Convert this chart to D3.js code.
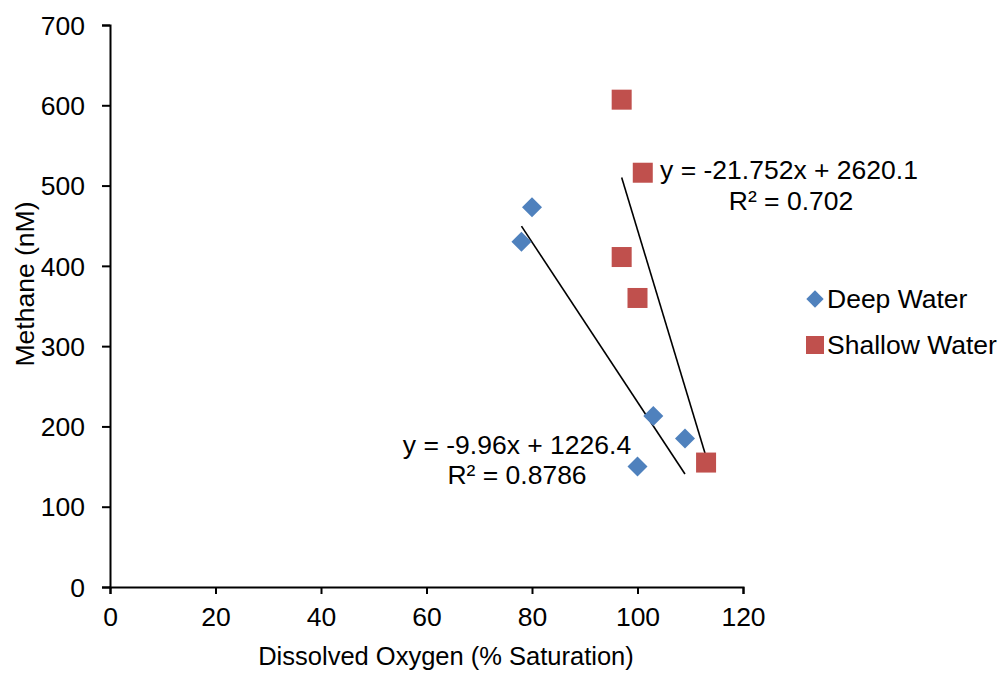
<!DOCTYPE html>
<html><head><meta charset="utf-8">
<script src="https://cdn.jsdelivr.net/npm/d3@7"></script>
<style>body{margin:0;background:#fff}svg{display:block}text{font-family:"Liberation Sans",Arial,sans-serif;fill:#000}</style>
</head><body>
<svg id="c" width="1001" height="673"></svg>
<script>
const deepX = [78, 80, 103, 109, 100];
const deepY = [430, 473, 213, 185, 150];
const shallowX = [97, 101, 97, 100, 113];
const shallowY = [607, 516, 411, 360, 155];
const xTicks = [0, 20, 40, 60, 80, 100, 120];
const yTicks = [0, 100, 200, 300, 400, 500, 600, 700];
const seriesNames = ["Deep Water", "Shallow Water"];
const deepFit = {slope: -9.96, intercept: 1226.4, r2: "0.8786", label: "y = -9.96x + 1226.4"};
const shallowFit = {slope: -21.752, intercept: 2620.1, r2: "0.702", label: "y = -21.752x + 2620.1"};

const svg = d3.select("#c");
const x = d3.scaleLinear().domain([0, 120]).range([110, 743]);
const y = d3.scaleLinear().domain([0, 700]).range([587, 25]);
const FS = 26.5;

// axes
const xa = svg.append("g").attr("transform", "translate(0,587)")
  .call(d3.axisBottom(x).tickValues(xTicks).tickSize(7).tickPadding(13).tickFormat(d3.format("d")));
const ya = svg.append("g").attr("transform", "translate(110,0)")
  .call(d3.axisLeft(y).tickValues(yTicks).tickSize(8).tickPadding(17).tickFormat(d3.format("d")));
[xa, ya].forEach(a => {
  a.select(".domain").attr("stroke", "#000").attr("stroke-width", 2);
  a.selectAll(".tick line").attr("stroke", "#000").attr("stroke-width", 2);
  a.selectAll(".tick text").attr("font-size", FS).attr("font-family", "Liberation Sans, Arial, sans-serif").attr("fill", "#000");
});
ya.selectAll(".tick text").attr("dy", "0.35em");

// axis titles
svg.append("text").attr("x", 446).attr("y", 665).attr("text-anchor", "middle").attr("font-size", 25.5)
  .text("Dissolved Oxygen (% Saturation)");
svg.append("text").attr("transform", "translate(34,284) rotate(-90)").attr("text-anchor", "middle").attr("font-size", FS)
  .text("Methane (nM)");

// trendlines
function trend(xs, fit) {
  const x0 = d3.min(xs), x1 = d3.max(xs);
  svg.append("line")
    .attr("x1", x(x0)).attr("y1", y(fit.slope * x0 + fit.intercept))
    .attr("x2", x(x1)).attr("y2", y(fit.slope * x1 + fit.intercept))
    .attr("stroke", "#000").attr("stroke-width", 1.6);
}
trend(deepX, deepFit);
trend(shallowX, shallowFit);

const blue = "#4F81BD", red = "#C0504D";
const diamond = d3.symbol().type(d3.symbolSquare).size(200);
// deep water diamonds
svg.append("g").selectAll("path").data(deepX.map((d, i) => [d, deepY[i]])).join("path")
  .attr("d", diamond)
  .attr("transform", d => `translate(${x(d[0])},${y(d[1])}) rotate(45)`)
  .attr("fill", blue);
// shallow squares
svg.append("g").selectAll("rect").data(shallowX.map((d, i) => [d, shallowY[i]])).join("rect")
  .attr("x", d => x(d[0]) - 10).attr("y", d => y(d[1]) - 10)
  .attr("width", 20).attr("height", 20).attr("fill", red);

// equation labels
function eq(fit, cx1, by1, cx2, by2) {
  svg.append("text").attr("x", cx1).attr("y", by1).attr("text-anchor", "middle").attr("font-size", FS).text(fit.label);
  svg.append("text").attr("x", cx2).attr("y", by2).attr("text-anchor", "middle").attr("font-size", FS).text("R² = " + fit.r2);
}
eq(shallowFit, 789, 179, 791, 210);
eq(deepFit, 517, 454, 517, 484);

// legend
const lg = svg.append("g");
lg.append("path").attr("d", d3.symbol().type(d3.symbolSquare).size(150)).attr("transform", "translate(815,299) rotate(45)").attr("fill", blue);
lg.append("text").attr("x", 827).attr("y", 308).attr("font-size", FS).text(seriesNames[0]);
lg.append("rect").attr("x", 806).attr("y", 336).attr("width", 18).attr("height", 18).attr("fill", red);
lg.append("text").attr("x", 827).attr("y", 354).attr("font-size", FS).text(seriesNames[1]);
</script>
</body></html>
